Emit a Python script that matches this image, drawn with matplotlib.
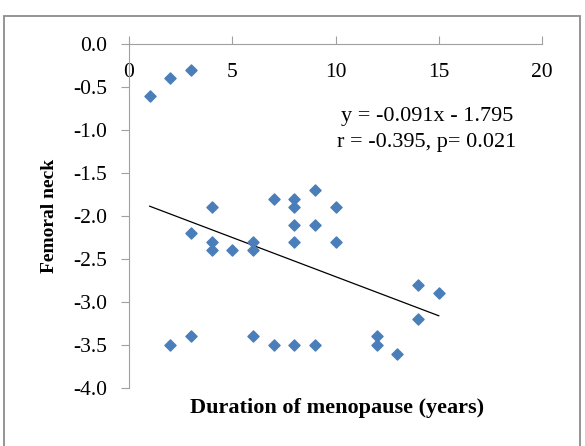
import matplotlib.pyplot as plt
from matplotlib.patches import Rectangle

# duration of menopause (years) vs femoral neck T-score
duration = [1, 2, 3,
            4, 3, 4, 4, 5, 6, 6, 7, 8, 8, 8, 8, 9, 9, 10, 10,
            14, 15, 14,
            2, 3, 6, 7, 8, 9, 12, 12, 13]
femoral = [-0.6, -0.4, -0.3,
           -1.9, -2.2, -2.3, -2.4, -2.4, -2.3, -2.4, -1.8, -1.8, -1.9, -2.1, -2.3, -1.7, -2.1, -1.9, -2.3,
           -2.8, -2.9, -3.2,
           -3.5, -3.4, -3.4, -3.5, -3.5, -3.5, -3.4, -3.5, -3.6]

slope = -0.091
intercept = -1.795
fit_x = [min(duration), max(duration)]
fit_y = [slope * x + intercept for x in fit_x]

plt.rcParams['font.family'] = ['Liberation Serif', 'DejaVu Serif']

fig = plt.figure(figsize=(5.85, 4.46), dpi=100)
ax = fig.add_axes([129 / 585, 1 - 388 / 446, 413 / 585, 344 / 446])

# gray frame around the chart area
fig.patches.append(Rectangle((4 / 585, -0.05), 576 / 585, 1 - 16 / 446 + 0.05,
                             transform=fig.transFigure, fill=False,
                             edgecolor='#8c8c8c', linewidth=1.3))

ax.scatter(duration, femoral, marker='D', s=32, color='#4a7ebb', zorder=3)
ax.plot(fit_x, fit_y, color='black', linewidth=0.9)

ax.set_xlim(0, 20)
ax.set_ylim(-4, 0)
ax.set_xticks([0, 5, 10, 15, 20])
ax.set_yticks([-4.0, -3.5, -3.0, -2.5, -2.0, -1.5, -1.0, -0.5, 0.0])
ax.set_yticklabels(['%.1f' % v for v in ax.get_yticks()])

ax.spines['bottom'].set_position(('data', 0))
ax.spines['top'].set_visible(False)
ax.spines['right'].set_visible(False)
for s in ['bottom', 'left']:
    ax.spines[s].set_color('#a0a0a0')
ax.tick_params(axis='x', direction='in', length=6, color='#a0a0a0', labelsize=15.5, pad=14)
ax.tick_params(axis='y', direction='out', length=6, color='#a0a0a0', labelsize=15.5, pad=10)

ax.text(14.43, -0.84, 'y = -0.091x - 1.795', ha='center', va='center', fontsize=16)
ax.text(14.43, -1.14, 'r = -0.395, p= 0.021', ha='center', va='center', fontsize=16)

ax.set_xlabel('Duration of menopause (years)', fontsize=16, fontweight='bold')
ax.xaxis.set_label_coords(0.504, -0.03)
ax.set_ylabel('Femoral neck', fontsize=14, fontweight='bold')
ax.yaxis.set_label_coords(-0.172, 0.5)

fig.savefig('out.png', dpi=100)
